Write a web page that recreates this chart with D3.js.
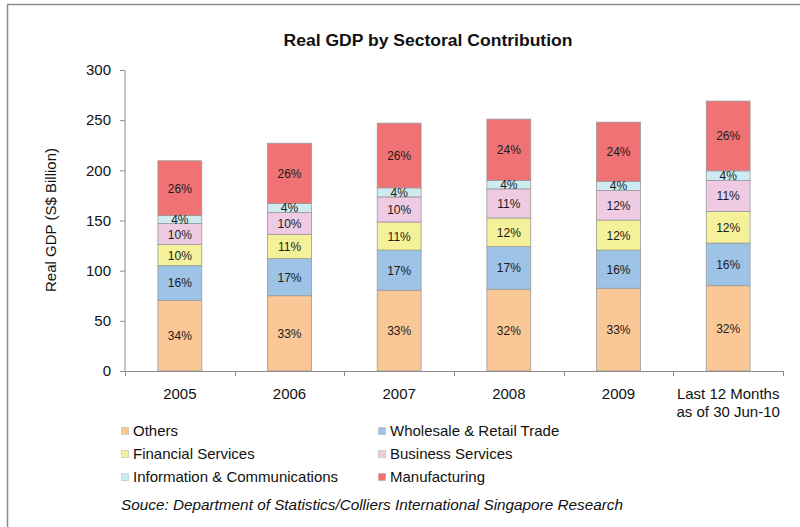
<!DOCTYPE html>
<html><head><meta charset="utf-8">
<script src="https://cdn.jsdelivr.net/npm/d3@7"></script>
<style>body{margin:0;background:#fff}svg{display:block;font-family:"Liberation Sans",Arial,sans-serif}</style>
</head><body>
<svg id="c" width="800" height="527"></svg>
<script>
const categories = ["2005","2006","2007","2008","2009","Last 12 Months|as of 30 Jun-10"];
const seriesNames = ["Others","Wholesale & Retail Trade","Financial Services","Business Services","Information & Communications","Manufacturing"];
const others        = [70.5, 75, 80.5, 81.5, 82.5, 85];
const wholesale     = [34.5, 37, 40, 42.5, 38, 42.5];
const financial     = [21, 24, 28, 28.5, 30, 31.5];
const business      = [21, 22, 25, 29, 29.5, 31];
const infocomm      = [8, 9, 9, 8.5, 9, 9.5];
const manufacturing = [54.5, 60, 64.5, 61, 59, 69.5];
const pctLabels = [
  ["34%","33%","33%","32%","33%","32%"],
  ["16%","17%","17%","17%","16%","16%"],
  ["10%","11%","11%","12%","12%","12%"],
  ["10%","10%","10%","11%","12%","11%"],
  ["4%","4%","4%","4%","4%","4%"],
  ["26%","26%","26%","24%","24%","26%"]
];
const yTicks = [0,50,100,150,200,250,300];
const colors = ["#F9C896","#9DC3E6","#F4F19A","#EECBE2","#CDEBF0","#F07275"];

const seriesValues = [others, wholesale, financial, business, infocomm, manufacturing];
const rows = categories.map((c,i)=>{const r={cat:c}; seriesNames.forEach((s,j)=>r[s]=seriesValues[j][i]); return r;});
const stack = d3.stack().keys(seriesNames)(rows);

const svg = d3.select("#c");
// border
svg.append("path").attr("d","M7.5,527 V4.5 H800").attr("fill","none").attr("stroke","#8a8a8a").attr("stroke-width",1.5);

const x0=125, x1=783, yTop=70, yBot=371;
const x = d3.scaleBand().domain(categories).range([x0,x1]).paddingInner(0.6).paddingOuter(0.3);
const xb = d3.scaleBand().domain(categories).range([x0,x1]);
const y = d3.scaleLinear().domain([0,300]).range([yBot,yTop]);

svg.append("text").attr("x",428).attr("y",46).attr("text-anchor","middle")
  .attr("font-weight","bold").attr("font-size",16).attr("fill","#111")
  .attr("textLength",289).attr("lengthAdjust","spacingAndGlyphs")
  .text("Real GDP by Sectoral Contribution");

// y axis
const ya = svg.append("g").attr("transform",`translate(${x0},0)`)
  .call(d3.axisLeft(y).tickValues(yTicks).tickSize(5).tickPadding(9));
ya.select(".domain").attr("stroke","#8c8c8c").attr("d",`M-5,${yTop+0.5}H0V${yBot+0.5}`);
ya.selectAll(".tick line").attr("stroke","#8c8c8c");
ya.selectAll("text").attr("font-size",15).attr("fill","#111").attr("font-family","Liberation Sans, Arial, sans-serif");

svg.append("text").attr("transform","translate(56,220) rotate(-90)").attr("text-anchor","middle")
  .attr("font-size",15).attr("fill","#111").text("Real GDP (S$ Billion)");

// bars
const g = svg.append("g");
stack.forEach((s,j)=>{
  g.selectAll(null).data(s).enter().append("rect")
    .attr("x",d=>x(d.data.cat)).attr("width",x.bandwidth())
    .attr("y",d=>y(d[1])).attr("height",d=>y(d[0])-y(d[1]))
    .attr("fill",colors[j]).attr("stroke","#9a9a9a").attr("stroke-width",0.8);
});
stack.forEach((s,j)=>{
  g.selectAll(null).data(s).enter().append("text")
    .attr("x",d=>x(d.data.cat)+x.bandwidth()/2)
    .attr("y",d=>(y(d[0])+y(d[1]))/2 + 4.5)
    .attr("text-anchor","middle").attr("font-size",12).attr("fill","#1a1a1a")
    .text((d,i)=>pctLabels[j][i]);
});

// x axis
svg.append("line").attr("x1",x0).attr("x2",x1).attr("y1",yBot+0.5).attr("y2",yBot+0.5).attr("stroke","#8c8c8c");
const bounds = categories.map(c=>xb(c)).concat([x1]);
svg.selectAll(null).data(bounds).enter().append("line")
  .attr("x1",d=>Math.round(d)+0.5).attr("x2",d=>Math.round(d)+0.5)
  .attr("y1",yBot).attr("y2",yBot+5).attr("stroke","#8c8c8c");
categories.forEach(c=>{
  const lines=c.split("|");
  const t=svg.append("text").attr("text-anchor","middle").attr("font-size",15).attr("fill","#111");
  lines.forEach((l,k)=>t.append("tspan").attr("x",xb(c)+xb.bandwidth()/2).attr("y",399+k*18).text(l));
});

// legend
const legPos = [[121,436],[378,436],[121,459],[378,459],[121,482],[378,482]];
seriesNames.forEach((s,j)=>{
  const [lx,ly]=legPos[j];
  svg.append("rect").attr("x",lx+0.5).attr("y",ly-8.5).attr("width",7).attr("height",7)
    .attr("fill",colors[j]).attr("stroke","#999").attr("stroke-width",0.7).attr("stroke-dasharray","1,1");
  svg.append("text").attr("x",lx+12).attr("y",ly).attr("font-size",15).attr("fill","#111").text(s);
});
svg.append("text").attr("x",121).attr("y",510).attr("font-size",15).attr("font-style","italic").attr("fill","#111")
  .attr("textLength",502).attr("lengthAdjust","spacingAndGlyphs")
  .text("Souce: Department of Statistics/Colliers  International Singapore Research");
</script>
</body></html>
